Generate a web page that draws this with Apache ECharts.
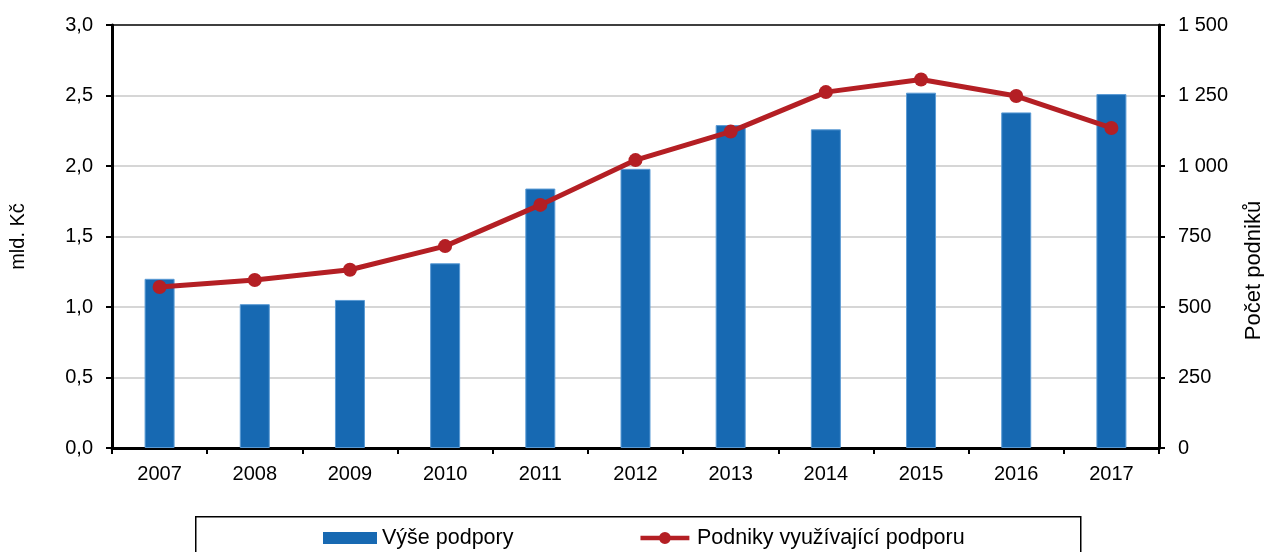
<!DOCTYPE html>
<html>
<head>
<meta charset="utf-8">
<script src="https://cdn.jsdelivr.net/npm/echarts@6/dist/echarts.min.js"></script>
<style>
  html, body { margin: 0; padding: 0; background: #fff; }
  #chart { width: 1264px; height: 552px; }
</style>
</head>
<body>
<div id="chart"></div>
<script>
// data
const years = ['2007', '2008', '2009', '2010', '2011', '2012', '2013', '2014', '2015', '2016', '2017'];
const vysePodpory = [1.20, 1.02, 1.05, 1.31, 1.84, 1.98, 2.29, 2.26, 2.52, 2.38, 2.51]; // mld. Kč
const podniky = [571, 596, 632, 716, 862, 1021, 1122, 1262, 1307, 1248, 1135];     // počet

const FONT = 'Liberation Sans, Arial, sans-serif';
const BLUE = '#1769b2';
const RED = '#b41f24';
const fmtComma = (v) => v.toFixed(1).replace('.', ',');
const fmtSpace = (v) => String(v).replace(/\B(?=(\d{3})+(?!\d))/g, ' ');

// ikona legendy: čára s kolečkem uprostřed
const LINE_ICON = 'path://M0,4 L53,4 L53,9 L0,9 Z M26.5,0 A6.5,6.5 0 1,1 26.5,13 A6.5,6.5 0 1,1 26.5,0 Z';

const axisCommon = {
  axisLine: { show: true, lineStyle: { color: '#000', width: 3 } },
  axisTick: { show: true, length: 6, lineStyle: { color: '#000', width: 2 } }
};

const chart = echarts.init(document.getElementById('chart'));
chart.setOption({
  animation: false,
  textStyle: { fontFamily: FONT, color: '#000' },
  grid: {
    left: 112, right: 105, top: 25, bottom: 104,
    outerBoundsMode: 'none', containLabel: false,
    show: true, borderColor: '#000', borderWidth: 1.5
  },
  // rámeček legendy
  graphic: [{
    type: 'rect', left: 195, top: 516, z: 0,
    shape: { width: 885, height: 60 },
    style: { fill: '#fff', stroke: '#000', lineWidth: 1.5 }
  }],
  legend: {
    left: 323, top: 527, padding: 0,
    itemGap: 127,
    itemWidth: 54, itemHeight: 12,
    textStyle: { fontFamily: FONT, fontSize: 21.5, color: '#000' },
    data: [
      { name: 'Výše podpory', icon: 'rect', itemStyle: { borderWidth: 0 } },
      { name: 'Podniky využívající podporu', icon: LINE_ICON }
    ]
  },
  xAxis: {
    type: 'category',
    data: years,
    boundaryGap: true,
    ...axisCommon,
    axisLabel: { fontSize: 20, color: '#000', margin: 16 }
  },
  yAxis: [
    {
      type: 'value', min: 0, max: 3, interval: 0.5,
      name: 'mld. Kč', nameLocation: 'middle', nameGap: 84, nameRotate: 90,
      nameTextStyle: { fontSize: 20, color: '#000' },
      ...axisCommon,
      axisLabel: { fontSize: 20, color: '#000', margin: 19, formatter: fmtComma },
      splitLine: { showMaxLine: false, lineStyle: { color: '#c8c8c8', width: 1.5 } }
    },
    {
      type: 'value', min: 0, max: 1500, interval: 250,
      name: 'Počet podniků', nameLocation: 'middle', nameGap: 84, nameRotate: 90,
      nameTextStyle: { fontSize: 22, color: '#000', padding: [0, 68, 0, 0] },
      ...axisCommon,
      axisLabel: { fontSize: 20, color: '#000', margin: 19, formatter: fmtSpace },
      splitLine: { show: false }
    }
  ],
  series: [
    {
      name: 'Výše podpory',
      type: 'bar',
      data: vysePodpory,
      barWidth: 30,
      itemStyle: { color: BLUE, borderColor: '#5b9bd5', borderWidth: 1 }
    },
    {
      name: 'Podniky využívající podporu',
      type: 'line',
      yAxisIndex: 1,
      data: podniky,
      symbol: 'circle',
      symbolSize: 14,
      lineStyle: { color: RED, width: 5 },
      itemStyle: { color: RED }
    }
  ]
});
</script>
</body>
</html>
